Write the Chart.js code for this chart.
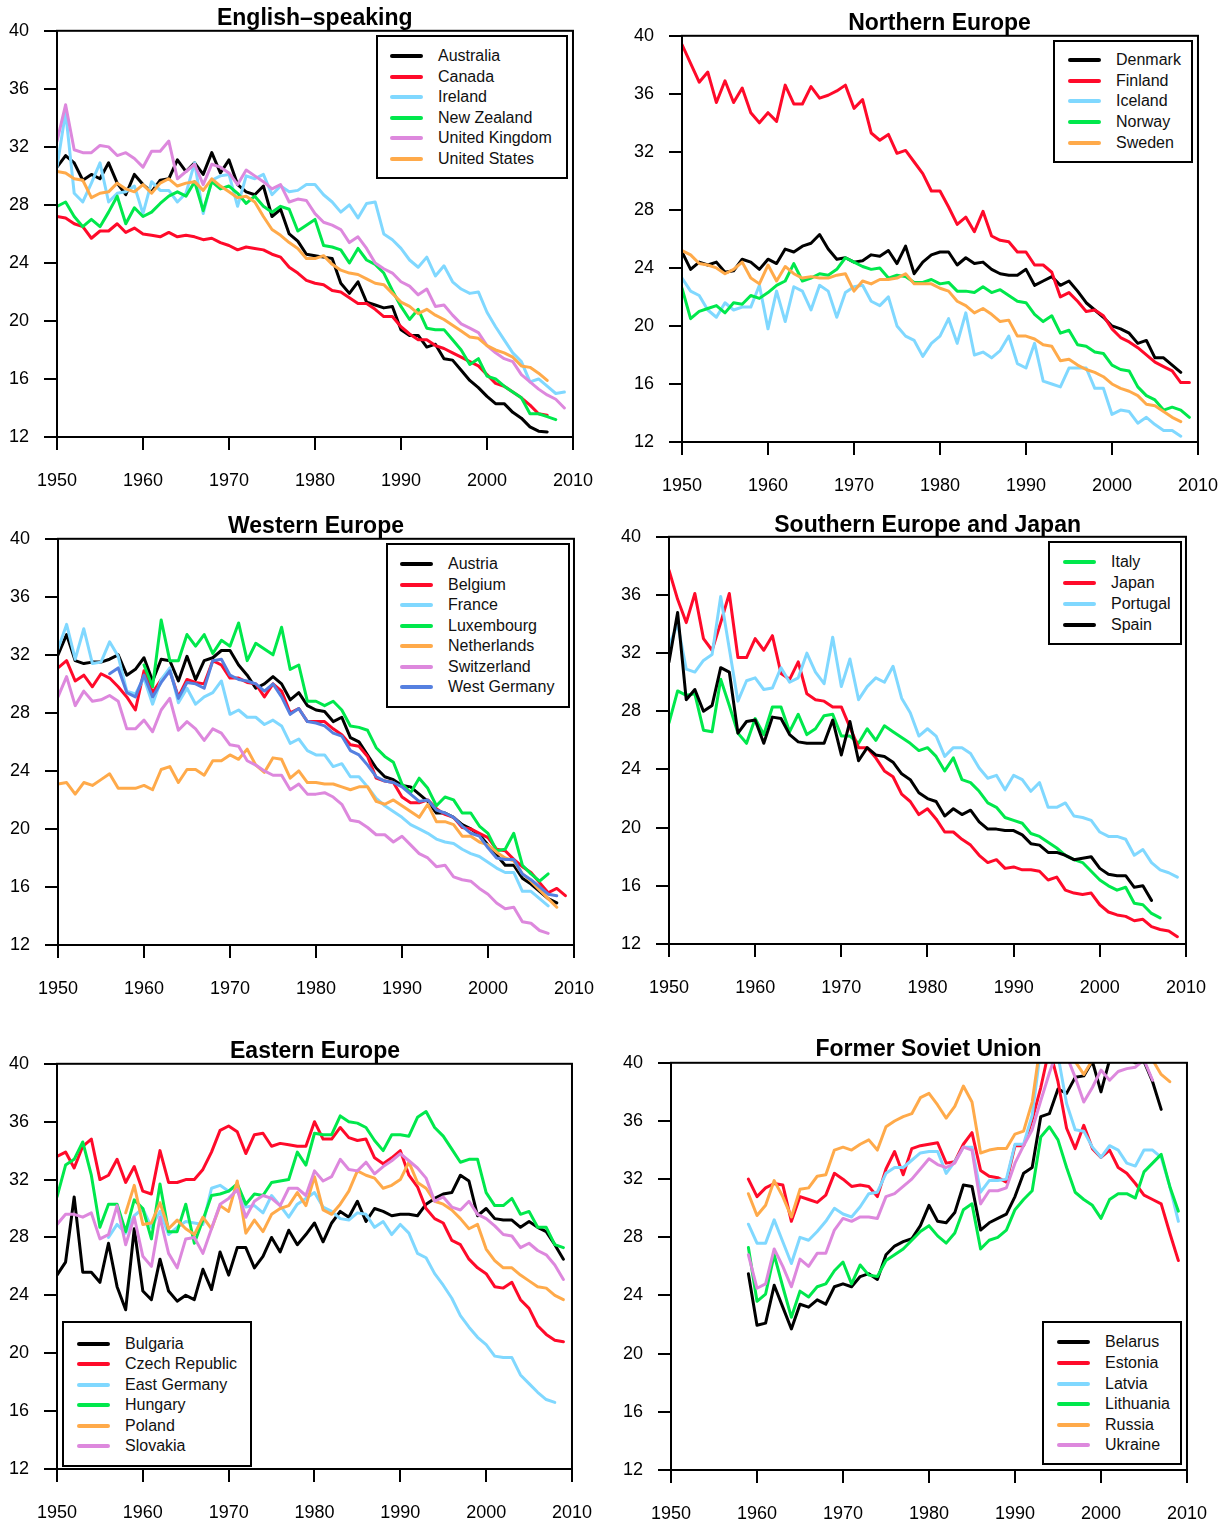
<!DOCTYPE html>
<html>
<head>
<meta charset="utf-8">
<title>Fertility panels</title>
<script src="https://cdn.jsdelivr.net/npm/chart.js@4.4.1/dist/chart.umd.min.js"></script>
<style>
  body { margin: 0; background: #fff; font-family: "Liberation Sans", Arial, sans-serif; }
  #page { position: relative; width: 1228px; height: 1524px; overflow: hidden; background: #fff; }
  .panel { position: absolute; }
  .panel canvas { display: block; }
  .title { position: absolute; font-weight: bold; font-size: 23px; line-height: 23px; white-space: nowrap; transform: translateX(-50%); color: #000; }
  .legend { position: absolute; border: 2px solid #000; background: #fff; box-sizing: border-box; }
  .key { position: absolute; height: 4px; border-radius: 2px; }
  .label { position: absolute; font-size: 16px; line-height: 20px; white-space: nowrap; color: #111; }
</style>
</head>
<body>
<div id="page"></div>
<script>
/* ============================================================
   DATA - values, one array per country
   ============================================================ */

// English-speaking (from 1950)
const australia = [30.6, 31.4, 30.9, 29.7, 30.1, 29.8, 30.9, 29.5, 28.7, 30.1, 29.4, 28.9, 29.7, 29.8, 31.1, 30.3, 30.9, 30.1, 31.6, 30.2, 31.1, 29.4, 28.9, 28.7, 29.3, 27.2, 27.7, 26.0, 25.5, 24.6, 24.5, 24.4, 24.3, 22.6, 21.9, 22.7, 21.3, 21.1, 20.9, 21.0, 19.4, 19.0, 19.0, 18.2, 18.4, 17.4, 17.3, 16.6, 15.9, 15.4, 14.8, 14.3, 14.3, 13.7, 13.3, 12.7, 12.4, 12.35];
const canada = [27.2, 27.1, 26.7, 26.5, 25.7, 26.2, 26.2, 26.7, 26.1, 26.4, 26.0, 25.9, 25.8, 26.1, 25.8, 25.9, 25.8, 25.6, 25.7, 25.4, 25.2, 24.9, 25.1, 25.0, 24.9, 24.6, 24.4, 23.7, 23.3, 22.8, 22.6, 22.5, 22.1, 22.0, 21.6, 21.2, 21.2, 20.8, 20.3, 20.3, 19.6, 19.1, 18.7, 18.7, 18.3, 18.1, 17.8, 17.5, 17.2, 16.9, 16.3, 15.7, 15.5, 15.1, 14.7, 14.2, 13.6, 13.5];
const ireland = [30.6, 34.4, 28.8, 28.2, 29.5, 30.9, 28.2, 28.8, 28.9, 29.3, 27.4, 29.6, 29.0, 29.0, 28.2, 28.8, 30.9, 27.4, 29.7, 30.0, 30.1, 27.9, 30.0, 29.8, 30.1, 28.7, 29.3, 28.9, 29.0, 29.4, 29.4, 28.7, 28.2, 27.5, 28.0, 27.1, 28.1, 28.2, 26.0, 25.6, 25.0, 24.2, 23.7, 24.4, 23.1, 23.8, 22.7, 22.2, 21.9, 22.0, 20.6, 19.6, 18.7, 17.8, 17.2, 15.8, 16.0, 15.5, 15.0, 15.1];
const newZealand = [27.9, 28.2, 27.2, 26.5, 27.0, 26.5, 27.5, 28.6, 26.7, 27.8, 27.2, 27.5, 28.1, 28.6, 28.9, 28.6, 29.6, 27.6, 29.6, 29.1, 29.3, 28.8, 28.1, 28.6, 27.9, 27.5, 27.9, 27.7, 26.2, 26.6, 27.0, 25.2, 25.1, 24.9, 24.0, 25.0, 24.2, 23.9, 23.3, 22.1, 21.0, 20.1, 20.8, 19.5, 19.4, 19.4, 18.7, 18.0, 17.0, 17.4, 16.2, 16.0, 15.5, 15.1, 14.7, 13.6, 13.6, 13.4, 13.2];
const unitedKingdom = [32.4, 34.9, 31.8, 31.6, 31.6, 32.1, 32.0, 31.4, 31.6, 31.2, 30.6, 31.7, 31.7, 32.4, 29.8, 30.3, 30.8, 29.4, 30.8, 30.6, 30.2, 29.4, 30.4, 30.0, 29.6, 29.1, 29.4, 28.2, 28.4, 28.3, 27.4, 26.8, 26.6, 26.3, 25.4, 25.8, 25.0, 24.0, 23.6, 23.3, 22.7, 22.4, 21.8, 22.2, 21.0, 21.1, 20.4, 19.8, 19.5, 19.2, 18.3, 17.8, 17.4, 17.2, 16.3, 15.8, 15.3, 14.9, 14.6, 14.0];
const unitedStates = [30.3, 30.2, 29.8, 29.7, 28.5, 28.8, 28.9, 29.5, 29.1, 28.9, 29.4, 28.8, 29.5, 29.8, 29.3, 29.5, 29.6, 29.0, 29.8, 29.3, 28.9, 28.5, 28.6, 28.2, 27.2, 26.3, 25.9, 25.4, 25.0, 24.3, 24.3, 24.5, 23.9, 23.5, 23.3, 23.2, 22.9, 22.6, 22.5, 21.9, 21.3, 21.0, 20.5, 20.8, 20.4, 20.1, 19.7, 19.3, 18.9, 18.8, 18.3, 18.0, 17.8, 17.5, 16.9, 16.8, 16.4, 15.9];

// Northern Europe (from 1950)
const denmark = [25.1, 23.9, 24.4, 24.2, 24.4, 23.7, 23.8, 24.6, 24.4, 23.9, 24.6, 24.3, 25.3, 25.1, 25.5, 25.7, 26.3, 25.3, 24.6, 24.7, 24.4, 24.5, 24.9, 24.8, 25.2, 24.3, 25.5, 23.6, 24.4, 24.9, 25.1, 25.1, 24.2, 24.7, 24.3, 24.4, 23.9, 23.6, 23.5, 23.5, 23.9, 22.8, 23.1, 23.4, 22.8, 23.1, 22.4, 21.6, 21.1, 20.6, 20.0, 19.8, 19.5, 18.8, 19.0, 17.8, 17.8, 17.3, 16.8];
const finland = [39.4, 38.1, 36.8, 37.5, 35.4, 36.9, 35.4, 36.4, 34.7, 34.0, 34.7, 34.1, 36.6, 35.3, 35.3, 36.5, 35.7, 35.9, 36.2, 36.6, 35.0, 35.6, 33.3, 32.8, 33.2, 31.9, 32.1, 31.3, 30.5, 29.3, 29.3, 28.2, 27.0, 27.5, 26.5, 27.9, 26.2, 25.9, 25.8, 25.1, 25.1, 24.2, 24.2, 23.7, 22.0, 22.3, 21.7, 21.0, 21.1, 20.7, 19.8, 19.2, 18.9, 18.5, 18.0, 17.5, 17.2, 16.9, 16.1, 16.1];
const iceland = [23.3, 22.4, 22.1, 21.1, 20.6, 21.6, 21.1, 21.3, 21.3, 22.8, 19.8, 22.4, 20.3, 22.7, 22.4, 21.1, 22.8, 22.4, 20.6, 22.3, 22.7, 22.8, 21.7, 21.4, 22.0, 20.0, 19.3, 19.0, 17.9, 18.8, 19.3, 20.5, 18.8, 20.9, 18.0, 18.2, 17.8, 18.3, 19.3, 17.4, 17.1, 18.8, 16.2, 16.0, 15.8, 17.1, 17.1, 17.1, 15.7, 15.7, 13.9, 14.2, 14.1, 13.3, 13.7, 13.2, 12.8, 12.8, 12.4];
const norway = [22.6, 20.5, 21.0, 21.2, 21.4, 20.9, 21.6, 21.5, 22.1, 21.9, 22.3, 22.8, 23.1, 24.3, 23.1, 23.3, 23.6, 23.5, 23.9, 24.7, 24.4, 24.1, 23.9, 24.0, 23.3, 23.5, 23.4, 23.0, 23.0, 23.2, 22.9, 23.0, 22.4, 22.4, 22.3, 22.7, 22.3, 22.5, 22.1, 21.7, 21.6, 20.8, 20.3, 20.7, 19.5, 19.7, 18.7, 18.6, 18.2, 18.1, 17.3, 17.0, 16.9, 15.8, 15.2, 14.9, 14.2, 14.4, 14.2, 13.7];
const sweden = [25.2, 24.9, 24.3, 24.2, 24.0, 23.6, 23.9, 24.4, 23.3, 22.9, 24.2, 23.1, 24.1, 23.6, 23.3, 23.4, 23.3, 23.3, 23.5, 23.6, 22.4, 23.1, 22.9, 23.2, 23.2, 23.3, 23.6, 22.9, 22.9, 22.9, 22.6, 22.4, 21.7, 21.4, 20.9, 21.2, 20.8, 20.3, 20.4, 19.3, 19.3, 19.1, 18.7, 18.6, 17.6, 17.7, 17.3, 17.0, 16.8, 16.5, 16.0, 15.7, 15.5, 15.2, 14.6, 14.5, 14.1, 13.7, 13.4];

// Western Europe (from 1950 unless noted)
const austria = [32.0, 33.4, 31.6, 31.4, 31.5, 31.5, 31.7, 32.0, 30.6, 31.0, 31.8, 30.2, 31.7, 31.6, 30.2, 31.9, 30.3, 31.6, 31.8, 32.3, 32.3, 31.3, 30.6, 29.7, 30.0, 30.5, 30.0, 28.9, 29.4, 28.5, 28.2, 28.1, 27.4, 27.7, 26.3, 26.0, 25.1, 24.2, 23.6, 23.4, 23.0, 22.9, 22.4, 21.9, 21.1, 21.1, 20.8, 20.3, 20.0, 19.6, 18.9, 18.2, 17.5, 17.5, 16.6, 16.2, 15.7, 15.2, 14.9];
const belgium = [31.1, 31.6, 30.2, 30.6, 29.8, 30.7, 30.4, 29.8, 29.1, 28.2, 30.9, 29.4, 30.3, 30.9, 29.1, 30.3, 30.1, 30.0, 31.6, 31.3, 30.4, 30.4, 30.1, 30.0, 29.1, 30.0, 29.5, 28.0, 28.3, 27.4, 27.4, 27.4, 26.9, 26.5, 25.8, 25.7, 25.0, 23.5, 23.3, 23.2, 22.2, 21.8, 21.8, 22.0, 21.4, 21.0, 20.8, 20.1, 20.0, 19.7, 19.4, 18.6, 18.5, 17.9, 17.4, 17.0, 16.3, 15.6, 15.9, 15.4];
const france = [32.4, 34.1, 31.7, 33.8, 31.4, 31.5, 32.9, 31.9, 29.5, 29.3, 30.4, 28.6, 30.3, 31.1, 28.7, 29.7, 28.6, 29.1, 29.4, 30.2, 27.9, 28.2, 27.7, 27.7, 27.2, 27.5, 27.1, 25.9, 26.2, 25.4, 25.1, 25.1, 24.3, 24.5, 23.6, 23.6, 22.9, 22.1, 21.6, 21.2, 20.8, 20.3, 20.0, 19.7, 19.3, 19.1, 19.0, 18.6, 18.3, 18.1, 17.7, 17.3, 17.0, 17.0, 15.7, 15.7, 15.2, 14.7];
const luxembourg = [31.3, 29.8, 34.4, 31.6, 31.6, 33.4, 32.6, 33.4, 32.1, 33.0, 32.6, 34.2, 31.6, 32.8, 32.4, 32.0, 33.9, 31.0, 31.3, 28.8, 28.8, 28.5, 28.8, 28.2, 27.1, 27.0, 26.8, 25.6, 25.0, 24.6, 23.1, 22.5, 23.5, 22.8, 21.6, 22.2, 22.0, 21.1, 21.1, 20.2, 19.7, 18.5, 18.6, 19.7, 17.5, 16.9, 16.4, 16.9]; // from 1960
const netherlands = [23.1, 23.2, 22.4, 23.2, 23.0, 23.4, 23.8, 22.8, 22.8, 22.8, 23.0, 22.7, 24.1, 24.3, 23.2, 24.1, 24.1, 23.7, 24.7, 24.7, 25.1, 24.8, 25.5, 24.4, 23.9, 24.9, 24.8, 23.5, 24.0, 23.2, 23.2, 23.1, 23.1, 22.9, 22.7, 22.9, 22.9, 21.9, 21.7, 22.0, 21.6, 21.2, 20.8, 21.7, 20.5, 20.5, 20.3, 19.5, 19.5, 19.1, 18.9, 18.4, 18.0, 17.8, 16.9, 16.4, 15.8, 15.2, 14.6];
const switzerland = [29.1, 30.5, 28.5, 29.5, 28.8, 28.9, 29.2, 28.8, 26.9, 26.9, 27.5, 26.7, 28.2, 29.0, 26.8, 27.4, 26.9, 26.1, 26.9, 26.6, 25.8, 25.7, 24.7, 24.4, 24.0, 23.7, 23.7, 22.7, 23.1, 22.4, 22.4, 22.5, 22.2, 21.7, 20.6, 20.5, 20.1, 19.6, 19.6, 19.1, 19.5, 18.9, 18.3, 18.0, 17.4, 17.5, 16.7, 16.5, 16.4, 15.9, 15.5, 14.9, 14.5, 14.6, 13.6, 13.5, 13.0, 12.8];
const westGermany = [30.7, 31.1, 29.4, 29.1, 30.6, 29.1, 30.1, 30.9, 29.0, 30.1, 30.0, 29.7, 31.6, 31.7, 30.6, 30.3, 30.2, 30.0, 29.5, 30.0, 29.1, 27.9, 28.3, 27.4, 27.3, 27.1, 26.6, 26.4, 25.4, 25.1, 24.4, 23.6, 23.3, 23.2, 22.9, 22.4, 21.9, 22.0, 21.3, 21.1, 20.8, 20.2, 19.7, 19.5, 18.7, 18.0, 17.9, 17.9, 16.9, 16.5, 16.0, 15.5, 15.4]; // from 1956

// Southern Europe and Japan (from 1950)
const italy = [27.2, 29.4, 29.1, 29.2, 26.7, 26.6, 30.2, 28.4, 26.5, 25.8, 27.5, 26.4, 28.3, 28.3, 26.6, 27.8, 26.4, 26.8, 27.7, 27.8, 26.3, 26.3, 25.8, 26.8, 26.0, 27.0, 26.6, 26.2, 25.8, 25.3, 25.5, 24.9, 23.9, 24.8, 23.3, 23.1, 22.5, 21.7, 21.4, 20.7, 20.5, 20.3, 19.6, 19.4, 19.0, 18.6, 18.1, 17.8, 17.6, 17.0, 16.4, 16.0, 15.7, 15.9, 14.8, 14.7, 14.1, 13.8];
const japan = [37.7, 35.7, 34.1, 36.1, 33.0, 32.2, 34.1, 36.1, 31.7, 31.7, 33.0, 32.2, 33.2, 30.6, 30.2, 31.4, 29.2, 28.8, 28.7, 28.3, 28.3, 26.9, 25.5, 25.5, 24.8, 23.9, 23.5, 22.3, 21.8, 20.9, 21.3, 20.6, 19.7, 19.7, 19.2, 18.8, 18.1, 17.6, 17.8, 17.2, 17.3, 17.1, 17.1, 17.0, 16.4, 16.6, 15.7, 15.5, 15.4, 15.5, 14.7, 14.2, 14.0, 13.9, 13.6, 13.7, 13.2, 13.0, 12.9, 12.5];
const portugal = [32.5, 34.0, 30.9, 30.7, 31.5, 31.9, 35.9, 32.3, 28.7, 30.1, 30.3, 29.5, 29.6, 31.0, 30.0, 30.3, 32.0, 30.7, 29.9, 33.1, 29.7, 31.6, 28.8, 29.7, 30.3, 30.0, 31.1, 28.9, 27.9, 26.3, 26.8, 26.3, 24.9, 25.5, 25.5, 25.1, 24.1, 23.4, 23.6, 22.6, 23.6, 23.3, 22.5, 23.1, 21.4, 21.4, 21.7, 20.8, 20.7, 20.5, 19.7, 19.4, 19.4, 19.2, 18.1, 18.5, 17.6, 17.1, 16.9, 16.6];
const spain = [31.4, 34.8, 28.8, 29.5, 28.0, 28.4, 31.0, 30.7, 26.5, 27.3, 27.4, 25.8, 27.6, 27.5, 26.4, 25.9, 25.8, 25.8, 25.8, 27.4, 25.0, 27.3, 24.6, 25.5, 25.0, 24.9, 24.5, 23.7, 23.3, 22.4, 22.0, 21.8, 20.8, 21.3, 20.9, 21.2, 20.4, 19.9, 19.9, 19.8, 19.8, 19.5, 18.9, 18.8, 18.3, 18.3, 18.1, 17.8, 17.9, 18.0, 17.2, 16.8, 16.7, 16.7, 15.9, 16.0, 15.0];

// Eastern Europe (from 1950 unless noted)
const bulgaria = [25.4, 26.3, 30.8, 25.6, 25.6, 24.9, 27.6, 24.6, 23.0, 28.6, 24.3, 23.7, 26.5, 24.3, 23.6, 24.0, 23.7, 25.8, 24.4, 27.0, 25.4, 27.3, 27.3, 25.9, 26.7, 28.0, 27.0, 28.5, 27.5, 28.2, 29.0, 27.7, 29.0, 29.8, 29.4, 30.5, 29.1, 30.0, 29.8, 29.5, 29.6, 29.6, 29.5, 30.3, 30.7, 31.0, 31.1, 32.3, 31.9, 29.5, 30.0, 29.3, 29.2, 29.2, 28.7, 29.1, 28.7, 28.4, 27.5, 26.5];
const czechRepublic = [33.6, 33.9, 32.8, 34.3, 34.8, 32.0, 32.3, 33.4, 31.8, 32.9, 31.2, 31.0, 34.0, 31.8, 31.8, 32.0, 32.0, 32.7, 33.9, 35.4, 35.7, 35.3, 33.8, 35.1, 35.2, 34.3, 34.5, 34.4, 34.3, 34.3, 36.0, 34.8, 34.8, 35.6, 34.9, 34.7, 34.8, 33.5, 33.1, 33.5, 34.0, 32.3, 31.5, 30.0, 29.3, 29.0, 27.8, 27.5, 26.5, 25.9, 25.5, 24.6, 24.5, 24.9, 23.7, 23.1, 21.9, 21.3, 20.9, 20.8];
const eastGermany = [28.0, 28.9, 28.3, 29.5, 30.0, 28.7, 29.8, 28.2, 28.7, 29.1, 29.0, 28.9, 31.4, 31.6, 31.2, 31.6, 30.1, 30.2, 29.7, 30.9, 30.2, 29.4, 30.3, 30.7, 31.1, 30.1, 29.8, 29.3, 29.2, 29.7, 29.6, 28.7, 29.1, 28.2, 28.9, 28.3, 26.9, 26.6, 25.5, 24.7, 23.8, 22.6, 21.8, 21.1, 20.6, 19.8, 19.7, 19.7, 18.5, 17.9, 17.3, 16.8, 16.6]; // from 1956
const hungary = [30.8, 33.0, 33.4, 34.6, 32.3, 28.7, 30.3, 30.3, 28.4, 30.6, 30.0, 27.9, 31.7, 28.4, 28.4, 30.3, 27.6, 29.2, 30.9, 31.0, 31.2, 31.7, 30.3, 31.0, 30.9, 31.8, 31.9, 32.0, 33.9, 33.0, 35.2, 35.1, 35.1, 36.4, 36.0, 35.9, 35.6, 34.7, 34.0, 35.1, 35.1, 35.0, 36.3, 36.7, 35.6, 35.0, 34.1, 33.2, 33.4, 33.4, 31.1, 30.2, 30.2, 30.7, 29.6, 29.8, 28.7, 28.7, 27.5, 27.3];
const poland = [29.7, 31.6, 28.9, 29.0, 30.4, 28.6, 29.2, 28.6, 28.2, 29.4, 28.6, 30.2, 29.8, 31.9, 28.3, 29.2, 28.4, 29.6, 30.0, 30.2, 31.1, 30.2, 32.2, 29.9, 29.6, 30.3, 31.2, 32.6, 32.3, 32.1, 31.4, 31.6, 32.0, 33.2, 31.8, 31.4, 30.5, 30.3, 29.9, 29.3, 28.6, 28.9, 27.2, 26.4, 25.9, 25.9, 25.4, 25.0, 24.6, 24.5, 24.0, 23.7]; // from 1958
const slovakia = [28.9, 29.6, 29.6, 29.4, 29.7, 27.9, 28.2, 30.2, 27.5, 29.4, 26.7, 26.0, 29.4, 26.9, 25.9, 27.9, 28.0, 26.9, 28.6, 30.3, 30.7, 31.3, 29.4, 30.5, 30.9, 30.7, 30.2, 31.4, 31.4, 30.9, 32.6, 31.9, 32.2, 33.4, 32.7, 32.6, 33.2, 32.4, 32.9, 33.3, 33.8, 33.3, 32.8, 32.1, 30.5, 30.8, 30.1, 29.9, 30.5, 29.6, 29.3, 28.8, 28.2, 28.1, 27.3, 27.6, 27.1, 26.8, 26.1, 25.1];

// Former Soviet Union (from 1959)
const belarus = [25.5, 21.95, 22.1, 24.7, 23.2, 21.7, 23.4, 23.2, 23.7, 23.4, 24.6, 24.8, 24.6, 25.3, 25.5, 25.1, 26.8, 27.4, 27.7, 27.9, 28.8, 30.2, 29.1, 29.0, 29.7, 31.6, 31.5, 28.5, 29.0, 29.3, 29.6, 30.8, 32.4, 32.8, 36.3, 36.5, 38.2, 37.9, 39.0, 39.1, 40.1, 38.0, 40.2, 40.5, 40.3, 40.0, 40.1, 38.7, 36.8];
const estonia = [32.0, 30.8, 31.4, 31.7, 31.6, 29.1, 30.8, 30.6, 30.4, 30.9, 32.4, 32.0, 31.5, 31.6, 31.5, 30.8, 32.7, 33.9, 32.3, 34.1, 34.3, 34.4, 34.5, 33.1, 33.2, 34.4, 35.2, 32.6, 32.2, 32.1, 31.8, 34.3, 34.3, 36.1, 38.3, 41.0, 38.7, 35.5, 34.1, 35.7, 34.1, 33.5, 34.0, 32.8, 32.4, 31.7, 30.9, 30.6, 30.3, 28.3, 26.4];
const latvia = [28.9, 27.6, 27.6, 29.2, 27.7, 26.2, 28.0, 27.8, 28.4, 29.1, 30.0, 29.6, 29.4, 30.1, 31.0, 31.1, 32.4, 32.8, 32.8, 33.3, 33.8, 33.9, 33.9, 32.4, 33.2, 34.2, 34.2, 31.1, 31.9, 31.9, 32.0, 34.4, 34.4, 36.4, 41.0, 42.0, 40.5, 37.2, 35.4, 35.3, 34.2, 33.5, 34.3, 34.0, 33.1, 32.9, 34.0, 34.0, 33.5, 31.5, 29.1];
const lithuania = [27.3, 23.6, 24.1, 26.8, 24.6, 22.5, 24.3, 23.9, 24.6, 24.8, 25.7, 26.3, 24.8, 26.1, 25.4, 25.3, 26.4, 26.8, 27.2, 27.8, 28.4, 28.8, 28.1, 27.6, 28.3, 29.9, 30.3, 27.2, 27.8, 28.0, 28.5, 29.9, 30.6, 31.2, 34.9, 35.6, 34.7, 32.8, 31.1, 30.6, 30.2, 29.3, 30.6, 31.0, 31.0, 30.7, 32.5, 33.1, 33.7, 31.5, 29.8];
const russia = [31.0, 29.5, 30.2, 31.9, 30.8, 29.4, 31.3, 31.4, 32.2, 32.3, 34.0, 34.2, 34.0, 34.4, 34.7, 34.0, 35.6, 36.0, 36.3, 36.5, 37.6, 37.9, 37.1, 36.2, 37.0, 38.4, 37.3, 33.8, 34.0, 34.1, 34.1, 35.1, 35.3, 37.3, 41.5, 43.0, 42.0, 41.0, 40.1, 39.2, 40.2, 40.5, 41.0, 41.0, 41.0, 41.0, 41.0, 40.2, 39.2, 38.7];
const ukraine = [26.8, 24.5, 24.8, 27.2, 26.0, 24.6, 26.5, 26.0, 26.9, 26.9, 28.5, 29.3, 29.1, 29.4, 29.4, 29.3, 30.8, 31.0, 31.5, 32.0, 32.7, 33.4, 33.0, 32.8, 33.1, 34.2, 34.0, 30.3, 31.2, 31.2, 31.4, 33.1, 34.3, 35.4, 37.4, 39.3, 41.0, 40.5, 39.0, 37.3, 38.3, 39.5, 38.8, 39.4, 39.6, 39.7, 40.2, 38.8];

// axis ticks
const yearTicks = [1950, 1960, 1970, 1980, 1990, 2000, 2010];
const rateTicks = [12, 16, 20, 24, 28, 32, 36, 40];

/* ============================================================
   PANELS - layout and styling
   ============================================================ */
const C = {
    black: "#000000", red: "#ff0a2a", sky: "#80d8ff", green: "#00e84c",
    pink: "#dd88dd", orange: "#ffaa4a", blue: "#5580e0"
};
const FONT = "'Liberation Sans', Arial, Helvetica, sans-serif";

const panels = [
    {
        title: "English\u2013speaking", box: [57, 31, 572.5, 437], titleTop: 6,
        legend: { box: [376, 35, 568, 179], row0: 56, step: 20.6, keyX: 390, textX: 438 },
        series: [
            ["Australia", australia, 1950, C.black],
            ["Canada", canada, 1950, C.red],
            ["Ireland", ireland, 1950, C.sky],
            ["New Zealand", newZealand, 1950, C.green],
            ["United Kingdom", unitedKingdom, 1950, C.pink],
            ["United States", unitedStates, 1950, C.orange]
        ]
    },
    {
        title: "Northern Europe", box: [681.5, 36, 1197.5, 441.7], titleTop: 11,
        legend: { box: [1053, 40, 1193, 163], row0: 60, step: 20.7, keyX: 1068, textX: 1116 },
        series: [
            ["Denmark", denmark, 1950, C.black],
            ["Finland", finland, 1950, C.red],
            ["Iceland", iceland, 1950, C.sky],
            ["Norway", norway, 1950, C.green],
            ["Sweden", sweden, 1950, C.orange]
        ]
    },
    {
        title: "Western Europe", box: [58, 539, 574, 944.7], titleTop: 514,
        legend: { box: [386, 543, 570, 708], row0: 564, step: 20.55, keyX: 400, textX: 448 },
        series: [
            ["Austria", austria, 1950, C.black],
            ["Belgium", belgium, 1950, C.red],
            ["France", france, 1950, C.sky],
            ["Luxembourg", luxembourg, 1960, C.green],
            ["Netherlands", netherlands, 1950, C.orange],
            ["Switzerland", switzerland, 1950, C.pink],
            ["West Germany", westGermany, 1956, C.blue]
        ]
    },
    {
        title: "Southern Europe and Japan", box: [669.3, 537.3, 1186, 944], titleTop: 513,
        legend: { box: [1048, 541, 1182, 645], row0: 562.3, step: 20.8, keyX: 1063, textX: 1111 },
        series: [
            ["Italy", italy, 1950, C.green],
            ["Japan", japan, 1950, C.red],
            ["Portugal", portugal, 1950, C.sky],
            ["Spain", spain, 1950, C.black]
        ]
    },
    {
        title: "Eastern Europe", box: [57.3, 1063.7, 572.7, 1469.3], titleTop: 1039,
        legend: { box: [62, 1321, 252, 1467], row0: 1343.7, step: 20.5, keyX: 77, textX: 125 },
        series: [
            ["Bulgaria", bulgaria, 1950, C.black],
            ["Czech Republic", czechRepublic, 1950, C.red],
            ["East Germany", eastGermany, 1956, C.sky],
            ["Hungary", hungary, 1950, C.green],
            ["Poland", poland, 1958, C.orange],
            ["Slovakia", slovakia, 1950, C.pink]
        ]
    },
    {
        title: "Former Soviet Union", box: [670.5, 1062.7, 1186.5, 1469.5], titleTop: 1037,
        legend: { box: [1042, 1321, 1182, 1465], row0: 1342.3, step: 20.6, keyX: 1057, textX: 1105 },
        series: [
            ["Belarus", belarus, 1959, C.black],
            ["Estonia", estonia, 1959, C.red],
            ["Latvia", latvia, 1959, C.sky],
            ["Lithuania", lithuania, 1959, C.green],
            ["Russia", russia, 1959, C.orange],
            ["Ukraine", ukraine, 1959, C.pink]
        ]
    }
];

// box around the plot region, like R's box()
const frame = {
    id: "frame",
    afterDatasetsDraw(chart) {
        const a = chart.chartArea, ctx = chart.ctx;
        ctx.save();
        ctx.strokeStyle = "#000";
        ctx.lineWidth = 2;
        ctx.strokeRect(a.left, a.top, a.right - a.left, a.bottom - a.top);
        ctx.restore();
    }
};

const page = document.getElementById("page");
const PAD_L = 57, PAD_T = 15, PAD_R = 30, PAD_B = 62;

function addDiv(cls, css, text) {
    const d = document.createElement("div");
    d.className = cls;
    Object.assign(d.style, css);
    if (text) d.textContent = text;
    page.appendChild(d);
    return d;
}

function drawPanel(p) {
    const [L, T, R, B] = p.box;
    let w = Math.round(R - L + PAD_L + PAD_R);
    let h = Math.round(B - T + PAD_T + PAD_B);

    const wrap = addDiv("panel", { left: (L - PAD_L) + "px", top: (T - PAD_T) + "px", width: w + "px", height: h + "px" });
    const canvas = document.createElement("canvas");
    canvas.width = w;
    canvas.height = h;
    wrap.appendChild(canvas);

    const axisGrid = { drawOnChartArea: false, drawTicks: true, tickLength: 13, color: "#000", lineWidth: 2 };
    const tickFont = { family: FONT, size: 18 };

    const chart = new Chart(canvas, {
        type: "line",
        data: {
            datasets: p.series.map(([name, vals, start, col], i) => ({
                label: name,
                data: vals.map((v, k) => ({ x: start + k, y: v })),
                borderColor: col,
                backgroundColor: col,
                borderWidth: 3,
                pointRadius: 0,
                tension: 0,
                fill: false,
                borderJoinStyle: "round",
                borderCapStyle: "round",
                order: -i
            }))
        },
        options: {
            responsive: false,
            maintainAspectRatio: false,
            animation: false,
            devicePixelRatio: 1,
            layout: { padding: { top: PAD_T, right: PAD_R, left: 0, bottom: 0 } },
            plugins: { legend: { display: false }, tooltip: { enabled: false }, title: { display: false } },
            scales: {
                x: {
                    type: "linear", min: yearTicks[0], max: yearTicks[yearTicks.length - 1],
                    afterFit: s => { s.height = PAD_B; },
                    afterBuildTicks: s => { s.ticks = yearTicks.map(v => ({ value: v })); },
                    ticks: { color: "#000", font: tickFont, padding: 20, maxRotation: 0, autoSkip: false, callback: v => String(v) },
                    grid: axisGrid,
                    border: { display: true, color: "#000", width: 2 }
                },
                y: {
                    min: rateTicks[0], max: rateTicks[rateTicks.length - 1],
                    afterFit: s => { s.width = PAD_L; },
                    afterBuildTicks: s => { s.ticks = rateTicks.map(v => ({ value: v })); },
                    ticks: { color: "#000", font: tickFont, padding: 15, autoSkip: false, callback: v => String(v) },
                    grid: axisGrid,
                    border: { display: true, color: "#000", width: 2 }
                }
            }
        },
        plugins: [frame]
    });

    // the layout adds label overflow on top of the padding, so measure the
    // plot area and resize/shift the canvas until it sits on the box
    for (let pass = 0; pass < 3; pass++) {
        const a = chart.chartArea;
        w = Math.round(w + (R - L) - (a.right - a.left));
        h = Math.round(h + (B - T) - (a.bottom - a.top));
        wrap.style.left = Math.round(L - a.left) + "px";
        wrap.style.top = Math.round(T - a.top) + "px";
        wrap.style.width = w + "px";
        wrap.style.height = h + "px";
        chart.resize(w, h);
    }

    // panel title
    addDiv("title", { left: ((L + R) / 2) + "px", top: p.titleTop + "px" }, p.title);

    // legend box
    const lg = p.legend;
    addDiv("legend", {
        left: lg.box[0] + "px", top: lg.box[1] + "px",
        width: (lg.box[2] - lg.box[0]) + "px", height: (lg.box[3] - lg.box[1]) + "px"
    });
    p.series.forEach(([name, , , col], i) => {
        const y = lg.row0 + i * lg.step;
        addDiv("key", { left: lg.keyX + "px", top: (y - 2) + "px", width: "33px", background: col });
        addDiv("label", { left: lg.textX + "px", top: (y - 10) + "px" }, name);
    });
}

panels.forEach(drawPanel);
</script>
</body>
</html>
